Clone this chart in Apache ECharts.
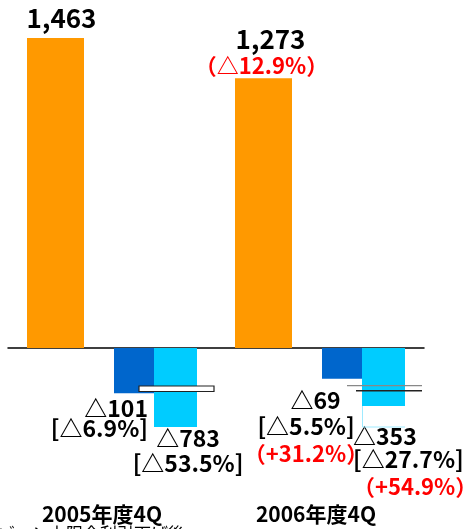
<!DOCTYPE html>
<html>
<head>
<meta charset="utf-8">
<script src="https://cdn.jsdelivr.net/npm/echarts@6/dist/echarts.min.js"></script>
<style>
  html, body { margin: 0; padding: 0; background: #fff; }
  #chart { width: 466px; height: 529px; }
</style>
</head>
<body>
<div id="chart"></div>
<script>
// Quarterly totals and the two decline components (△ = decrease)
const categories   = ['2005年度4Q', '2006年度4Q'];
const totals       = [1463, 1273];
const totalChange  = ['', '△12.9%'];
const darkDecline  = [-101, -69];
const darkShare    = ['△6.9%', '△5.5%'];
const darkChange   = ['', '+31.2%'];
const lightDecline = [-783, -353];
const lightShare   = ['△53.5%', '△27.7%'];
const lightChange  = ['', '+54.9%'];
const footnote     = 'ゾーン上限金利引下げ後';

const FONT = '"Noto Sans CJK JP", "Noto Sans", sans-serif';
const RED = '#ff0000', ORANGE = '#ff9900', DARK = '#0066cc', LIGHT = '#00ccff';

const fmtTotal = v => v.toLocaleString('en-US');
const fmtDecline = v => '△' + Math.abs(v);
const rs = (color, size, lh, extra) =>
  Object.assign({ color, fontSize: size, fontWeight: 'bold', fontFamily: FONT, lineHeight: lh }, extra || {});

// label placement per category (layout only)
const totalLabelLayout = [
  { offset: [6, 0], padFirst: 0, lh: [30] },
  { offset: [-2, 4], padFirst: 18, lh: [29, 24] }
];
const darkLabelLayout = [
  { align: 'right', offset: [14, 0], padFirst: 0, lh: [20, 20, 28] },
  { align: 'center', offset: [-36, 4], padFirst: 19, lh: [24, 28, 28] }
];
const lightLabelLayout = [
  { align: 'center', offset: [12.5, -5], padFirst: 0, lh: [22, 28, 28] },
  { align: 'left', offset: [-30.5, 14], padFirst: 0, lh: [22, 24, 32] }
];
const categoryShift = [20, 8];

function totalItem(v, i) {
  const L = totalLabelLayout[i];
  let text = '{t|' + fmtTotal(v) + '}';
  const rich = { t: rs('#000', 26, L.lh[0], { padding: [0, 0, 0, L.padFirst] }) };
  if (totalChange[i]) {
    text += '\n{r|（' + totalChange[i] + '）}';
    rich.r = rs(RED, 22, L.lh[1]);
  }
  return { value: v, label: { offset: L.offset, formatter: text, rich } };
}

function declineItem(v, i, share, change, layout) {
  const L = layout[i];
  let text = '{a|' + fmtDecline(v) + '}\n{b|[' + share[i] + ']}';
  const rich = {
    a: rs('#000', 23, L.lh[0], { padding: [0, 0, 0, L.padFirst] }),
    b: rs('#000', 23, L.lh[1])
  };
  if (change[i]) {
    text += '\n{c|（' + change[i] + '）}';
    rich.c = rs(RED, 22, L.lh[2], { align: 'center' });
  }
  return { value: v, label: { align: L.align, offset: L.offset, formatter: text, rich } };
}

const catRich = {};
categoryShift.forEach((p, i) => { catRich['c' + i] = rs('#000', 21, 24, { padding: [0, p, 0, 0] }); });

const chart = echarts.init(document.getElementById('chart'));

chart.setOption({
  animation: false,
  backgroundColor: '#fff',
  grid: { left: 8, right: 42, top: 38, bottom: 102, outerBoundsMode: 'none' },
  xAxis: [
    {
      // baseline through zero
      type: 'category',
      data: categories,
      axisLine: { onZero: true, onZeroAxisIndex: 0, lineStyle: { color: '#000', width: 1.5 } },
      axisTick: { show: false },
      splitLine: { show: false },
      axisLabel: { show: false }
    },
    {
      // category names under the chart
      type: 'category',
      position: 'bottom',
      data: categories,
      axisLine: { show: false, onZero: false },
      axisTick: { show: false },
      splitLine: { show: false },
      axisLabel: {
        margin: 75,
        formatter: (val, idx) => '{c' + idx + '|' + val + '}',
        rich: catRich
      }
    }
  ],
  yAxis: [
    { type: 'value', show: false, min: -372.8, max: 1463, splitLine: { show: false } },
    {
      type: 'value', show: false, min: -783, max: 693.4, splitLine: { show: false },
      breaks: [
        { start: -770, end: -353, gap: 34 },
        { start: -340, end: -110, gap: 6.7 }
      ],
      breakArea: { show: false }
    }
  ],
  series: [
    {
      type: 'bar', yAxisIndex: 0, barWidth: 57, barGap: '0%',
      itemStyle: { color: ORANGE },
      label: { show: true, position: 'top' },
      data: totals.map(totalItem)
    },
    {
      type: 'bar', yAxisIndex: 0, barWidth: 30, barGap: '0%', silent: true,
      itemStyle: { color: 'rgba(0,0,0,0)' },
      data: categories.map(() => 0)
    },
    {
      type: 'bar', yAxisIndex: 1, barWidth: 40, barGap: '0%',
      itemStyle: { color: DARK },
      label: { show: true, position: 'bottom' },
      data: darkDecline.map((v, i) => declineItem(v, i, darkShare, darkChange, darkLabelLayout))
    },
    {
      type: 'bar', yAxisIndex: 1, barWidth: 43, barGap: '0%',
      itemStyle: { color: LIGHT },
      label: { show: true, position: 'bottom' },
      data: lightDecline.map((v, i) => declineItem(v, i, lightShare, lightChange, lightLabelLayout))
    }
  ]
});

// Broken-bar markers, drawn relative to the category centres and the zero line
const cx0 = chart.convertToPixel({ xAxisIndex: 0 }, 0);
const cx1 = chart.convertToPixel({ xAxisIndex: 0 }, 1);
const zy = chart.convertToPixel({ yAxisIndex: 1 }, 0);
const yLow2 = chart.convertToPixel({ yAxisIndex: 1 }, lightDecline[1]);
const yLow1 = chart.convertToPixel({ yAxisIndex: 1 }, lightDecline[0]);

chart.setOption({
  graphic: [
    {
      type: 'rect', z: 100,
      shape: { x: cx0 + 27, y: zy + 38, width: 75, height: 5.5 },
      style: { fill: '#fff', stroke: '#222', lineWidth: 1.2 }
    },
    {
      type: 'line', z: 100,
      shape: { x1: cx1 + 27, y1: zy + 37.7, x2: cx1 + 102, y2: zy + 37.7 },
      style: { stroke: '#888', lineWidth: 1.3 }
    },
    {
      type: 'line', z: 100,
      shape: { x1: cx1 + 36, y1: zy + 42.7, x2: cx1 + 102, y2: zy + 42.7 },
      style: { stroke: '#222', lineWidth: 1.5 }
    },
    {
      type: 'polyline', z: 100,
      shape: { points: [[cx1 + 42.5, yLow2], [cx1 + 42.5, yLow1], [cx1 + 85, yLow1]] },
      style: { stroke: '#9eeaff', lineWidth: 1, fill: null }
    },
    {
      type: 'text', z: 100, left: -2, top: 525,
      style: { text: footnote, fontSize: 17, fontFamily: FONT, fill: '#000' }
    }
  ]
});
</script>
</body>
</html>
